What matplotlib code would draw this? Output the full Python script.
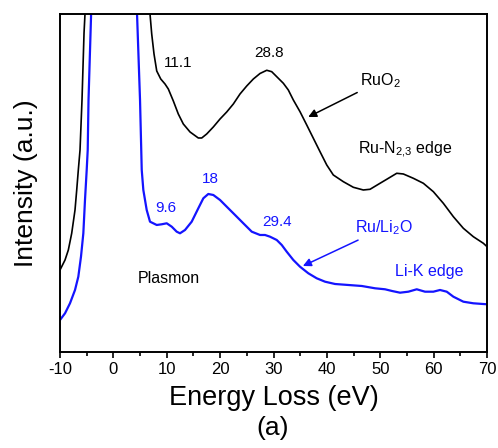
import numpy as np
import matplotlib.pyplot as plt

plt.rcParams['font.family'] = ['Liberation Sans', 'DejaVu Sans']
plt.rcParams['mathtext.fontset'] = 'custom'
plt.rcParams['mathtext.rm'] = 'Liberation Sans'
plt.rcParams['mathtext.it'] = 'Liberation Sans:italic'
plt.rcParams['mathtext.default'] = 'regular'
plt.rcParams['axes.unicode_minus'] = False

# RuO2 spectrum (black)
ruo2_E = [-10.00, -9.06, -8.44, -7.81, -7.19, -6.87, -6.57, -6.25, -5.88,
          -5.50, -5.32, -5.0,
          6.2, 6.86, 7.18, 7.61, 8.12, 8.87, 9.67, 10.29, 11.23, 12.16,
          13.10, 14.36, 15.91, 16.55, 17.48, 18.72, 19.98, 21.23, 22.47,
          23.72, 24.98, 26.22, 27.47, 28.73, 29.66, 30.60, 31.84, 32.77,
          33.71, 34.96, 36.22, 37.46, 38.71, 39.97, 41.20, 43.08, 44.95,
          46.82, 48.08, 49.95, 51.21, 53.08, 54.32, 56.19, 58.07, 59.94,
          61.81, 63.69, 65.56, 67.43, 69.31, 70.0]
ruo2_I = [82, 92, 102, 118.7, 142, 162, 182, 202, 252,
          319, 338, 420,
          420, 338, 318, 298, 281, 273, 268, 263, 251, 238,
          228, 220, 214, 214, 218, 225, 233, 240, 248,
          258, 266, 273, 278.5, 281.7, 280.3, 275.3, 268.7, 262,
          252, 240.3, 227, 213.7, 200.3, 187, 177, 170.3, 164.7,
          162, 162.7, 168.7, 172.7, 178.7, 178, 173.7, 168.7, 160.3,
          148.7, 135.3, 123.7, 115.3, 108.7, 105.3]

# Ru/Li2O spectrum (blue)
ruli_E = [-10.00, -9.06, -8.13, -7.19, -6.57, -6.07, -5.63, -5.32, -5.00,
          -4.81, -4.66, -4.19, -3.9,
          4.1, 4.43, 4.99, 5.31, 5.61, 6.24, 6.86, 8.12, 9.05, 9.99, 10.93,
          11.86, 12.48, 13.42, 14.67, 15.91, 16.85, 17.78, 18.72, 19.98,
          21.23, 22.79, 24.34, 25.92, 27.47, 28.41, 29.34, 30.60, 31.54,
          32.47, 33.71, 34.96, 36.52, 38.09, 39.65, 41.52, 44.01, 46.53,
          49.02, 50.89, 52.20, 53.70, 55.26, 56.83, 58.38, 59.94, 61.19,
          62.45, 63.69, 65.56, 67.43, 70.0]
ruli_I = [32, 38.7, 48.7, 62, 75.3, 95.3, 118.7, 152, 182,
          202, 252, 335, 420,
          420, 338, 252, 182, 162, 142, 130.3, 127, 127.7, 128.7, 125.3,
          120.3, 118.7, 122, 130.3, 143.7, 153.7, 158, 157, 152,
          145.3, 137, 128.7, 120.3, 117, 117, 115.3, 112, 107,
          100.3, 92, 85.3, 78.7, 73.7, 70.3, 68, 67, 66,
          63.7, 62.7, 61, 59.3, 60.3, 62.7, 60.3, 60.3, 62,
          60.3, 55.3, 50.3, 48.7, 47.7]

blue = '#1414ff'

fig = plt.figure(figsize=(4.98, 4.48), dpi=100)
ax = fig.add_axes([0.1205, 0.2143, 0.8575, 0.7545])

ax.plot(ruo2_E, ruo2_I, color='k', lw=1.2)
ax.plot(ruli_E, ruli_I, color=blue, lw=1.6)

ax.set_xlim(-10, 70)
ax.set_ylim(0, 338)
ax.set_xticks(np.arange(-10, 71, 10))
ax.set_xticks(np.arange(-5, 70, 10), minor=True)
ax.set_yticks([])
ax.tick_params(axis='x', which='major', direction='out', length=4, width=1.2,
               labelsize=12, pad=3)
ax.tick_params(axis='x', which='minor', direction='out', length=3, width=1.2)
for s in ax.spines.values():
    s.set_linewidth(1.4)

ax.set_xlabel('Energy Loss (eV)', fontsize=19.5, labelpad=6)
ax.set_ylabel('Intensity (a.u.)', fontsize=19, labelpad=16)
fig.text(0.547, 0.045, '(a)', fontsize=19, ha='center', va='center')

# peak labels
ax.text(12.1, 289, '11.1', fontsize=11, ha='center', va='center')
ax.text(29.2, 299, '28.8', fontsize=11, ha='center', va='center')
ax.text(9.86, 144, '9.6', fontsize=11, ha='center', va='center', color=blue)
ax.text(18.1, 173, '18', fontsize=11, ha='center', va='center', color=blue)
ax.text(30.66, 130, '29.4', fontsize=11, ha='center', va='center', color=blue)
ax.text(4.6, 73, 'Plasmon', fontsize=11.5, ha='left', va='center')
ax.text(45.8, 202, 'Ru-N$_{2{,}3}$ edge', fontsize=11.5, ha='left', va='center')
ax.text(52.76, 80, 'Li-K edge', fontsize=11.5, ha='left', va='center', color=blue)

ax.annotate('RuO$_2$', xy=(36.5, 235), xytext=(46.2, 271), fontsize=11.5,
            ha='left', va='center',
            arrowprops=dict(arrowstyle='-|>', color='k', lw=1.1,
                            mutation_scale=12, shrinkA=0, shrinkB=0))
ax.annotate('Ru/Li$_2$O', xy=(35.5, 86), xytext=(45.27, 124), fontsize=11.5,
            ha='left', va='center', color=blue,
            arrowprops=dict(arrowstyle='-|>', color=blue, lw=1.1,
                            mutation_scale=12, shrinkA=0, shrinkB=0))

fig.savefig('out.png', dpi=100)
